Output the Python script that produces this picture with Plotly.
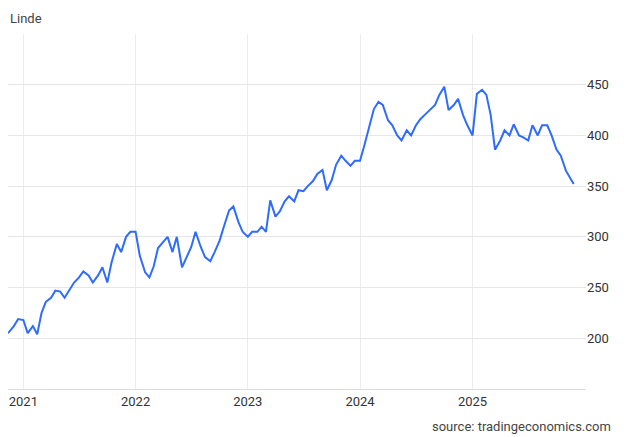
import pandas as pd
import plotly.graph_objects as go

values = [
    212, 219,
    218, 205, 212, 204, 225, 236, 240, 247, 246, 240, 248, 255, 260, 266, 262, 255, 262, 270, 255, 275, 293, 285, 300, 305,
    305, 281, 265, 260, 271, 289, 295, 300, 285, 300, 270, 280, 290, 305, 290, 280, 276, 285, 296, 310, 326, 330, 315, 305,
    300, 305, 305, 310, 305, 336, 320, 325, 335, 340, 335, 346, 345, 350, 355, 362, 366, 346, 356, 371, 380, 375, 370, 375,
    375, 390, 411, 426, 433, 430, 415, 410, 400, 395, 405, 400, 410, 416, 421, 425, 430, 440, 448, 425, 430, 436, 420, 410,
    400, 441, 445, 440, 420, 386, 395, 405, 400, 411, 400, 398, 395, 410, 400, 410, 410, 400, 386, 380, 365, 352,
]
dates = list(pd.date_range("2020-12-01", periods=len(values), freq="SMS"))
dates[-1] = pd.Timestamp("2025-11-26")
dates = [pd.Timestamp("2020-11-12")] + dates
values = [205] + values

y_ticks = [200, 250, 300, 350, 400, 450]
x_ticks = ["2021-01-01", "2022-01-01", "2023-01-01", "2024-01-01", "2025-01-01"]
x_labels = ["2021", "2022", "2023", "2024", "2025"]

fig = go.Figure(go.Scatter(x=dates, y=values, mode="lines",
                           line=dict(color="#2e6bff", width=2)))
fig.update_layout(
    width=630, height=437, margin=dict(l=0, r=52, t=26, b=56),
    paper_bgcolor="white", plot_bgcolor="white", showlegend=False,
    font=dict(family="Roboto, Arial", size=12, color="#333"),
    xaxis=dict(range=["2020-11-12", "2026-01-05"], showgrid=True, gridcolor="#ececec",
               tickvals=x_ticks, ticktext=x_labels, ticks="",
               showline=True, linecolor="#dddddd", tickfont=dict(size=13)),
    yaxis=dict(range=[150, 500], side="right", tickvals=y_ticks, gridcolor="#e6e6e6",
               zeroline=False, ticks="", tickfont=dict(size=13)),
    annotations=[
        dict(text="Linde", x=0, y=1, xref="paper", yref="paper", xanchor="left",
             yanchor="bottom", yshift=6, showarrow=False, font=dict(size=13, color="#444")),
        dict(text="source: tradingeconomics.com", x=1, xref="paper", xanchor="right",
             xshift=27, y=0, yref="paper", yanchor="top", yshift=-28, showarrow=False,
             font=dict(size=13, color="#444")),
    ],
)
fig.write_html("out.html")
